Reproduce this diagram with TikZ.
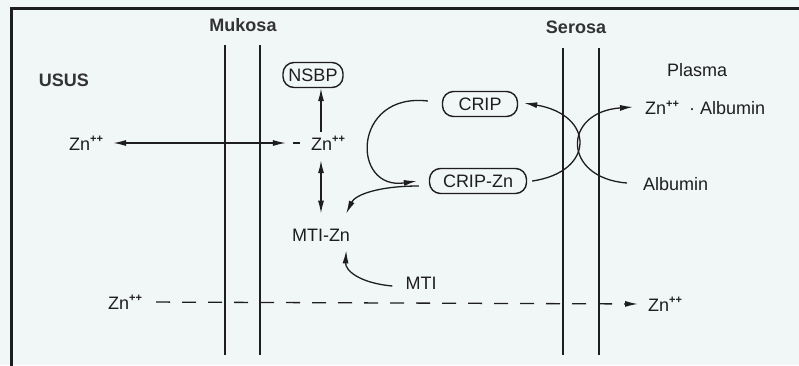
\documentclass[tikz,border=0pt]{standalone}
\usepackage{fontspec}
\setmainfont{Liberation Sans}
\usetikzlibrary{arrows.meta}
\definecolor{paper}{HTML}{F1F6F6}
\definecolor{ink}{HTML}{1E1E1E}
\definecolor{labelink}{HTML}{333333}
\newcommand{\znion}{Zn\raisebox{0.42em}{\fontsize{11}{11}\selectfont\bfseries ++}}
\tikzset{
  lbl/.style={font=\fontsize{18}{21}\selectfont, text=ink, inner sep=4pt},
  headlbl/.style={lbl, font=\fontsize{18}{21}\selectfont\bfseries, text=labelink},
  pill/.style={lbl, draw=ink, line width=1.4pt, rounded corners=11pt,
    minimum height=25pt, inner xsep=5pt},
  membrane/.style={draw=ink, line width=1.6pt},
  arr/.style={-{Latex[length=13pt,width=6pt]}, line width=1.3pt, draw=ink},
  dblarr/.style={{Latex[length=13pt,width=6pt]}-{Latex[length=13pt,width=6pt]},
    line width=1.3pt, draw=ink},
  plainline/.style={line width=1.3pt, draw=ink},
  dashline/.style={arr, dash pattern=on 14pt off 12pt}
}
\begin{document}
\begin{tikzpicture}[x=1pt,y=-1pt]
  \fill[paper] (0,0) rectangle (799,365);
  \useasboundingbox (0,0) rectangle (799,365);
  \draw[ink, line width=3pt] (11.5,366) -- (11.5,8.5) -- (800,8.5);
  \foreach \mx/\mtop in {225/45, 260/45, 563/48, 599/48}
    \draw[membrane] (\mx,\mtop) -- (\mx,355);

  \node[headlbl] (mukosa) at (243,25) {Mukosa};
  \node[headlbl] (serosa) at (576,27) {Serosa};
  \node[headlbl] (usus) at (64,80) {USUS};
  \node[lbl] (plasma) at (697,70) {Plasma};

  \node[pill, minimum width=60pt] (nsbp) at (313,75) {NSBP};
  \node[lbl] (znL) at (86,143) {\znion};
  \node[lbl] (znM) at (328,143) {\znion};
  \node[pill, minimum width=75pt] (crip) at (480,104) {CRIP};
  \node[pill, minimum width=97pt] (cripzn) at (478,181) {CRIP-Zn};
  \node[lbl] (mtizn) at (321,235) {MTI-Zn};
  \node[lbl] (mti) at (421,283) {MTI};
  \node[lbl, anchor=west] (znalb) at (641,108) {\znion\ \ · Albumin};
  \node[lbl, anchor=west] (alb) at (639,184) {Albumin};
  \node[lbl] (znB) at (125,302) {\znion};
  \node[lbl, anchor=west] (znR) at (644,304) {\znion};

  \draw[dblarr, shorten <=6pt] (znL.east) -- ([xshift=-21pt]znM.west);
  \draw[plainline] ([xshift=-14pt]znM.west) -- ([xshift=-7pt]znM.west);
  \draw[arr] (znM.north -| mtizn) -- (nsbp.south -| mtizn);
  \draw[dblarr, shorten <=6pt, shorten >=11pt] (znM.south -| mtizn) -- (mtizn.north);

  \draw[arr] ([xshift=-14pt,yshift=3pt]crip.west) .. controls +(-76,-9) and +(-66,10)
    .. ([xshift=-12pt]cripzn.west);
  \draw[arr] ([xshift=-10pt,yshift=-5pt]cripzn.west) .. controls +(-40,0) and +(9,-19)
    .. ([xshift=-8pt,yshift=11pt]mtizn.north east);
  \draw[arr] ([xshift=-9pt,yshift=-3pt]mti.west) .. controls +(-33,-3) and +(-1,20)
    .. ([xshift=-8pt,yshift=-5pt]mtizn.south east);

  \draw[arr] ([xshift=5pt]cripzn.east) .. controls +(63,-9) and +(71,12)
    .. ([xshift=6pt,yshift=1pt]crip.east);
  \draw[arr] ([xshift=-12pt,yshift=1pt]alb.west) .. controls +(-65,-5) and +(-71,5)
    .. ([xshift=-8pt,yshift=1pt]znalb.west);

  \draw[dashline, shorten <=10pt, shorten >=6pt] (znB.east) -- (znR.west);
\end{tikzpicture}
\end{document}
